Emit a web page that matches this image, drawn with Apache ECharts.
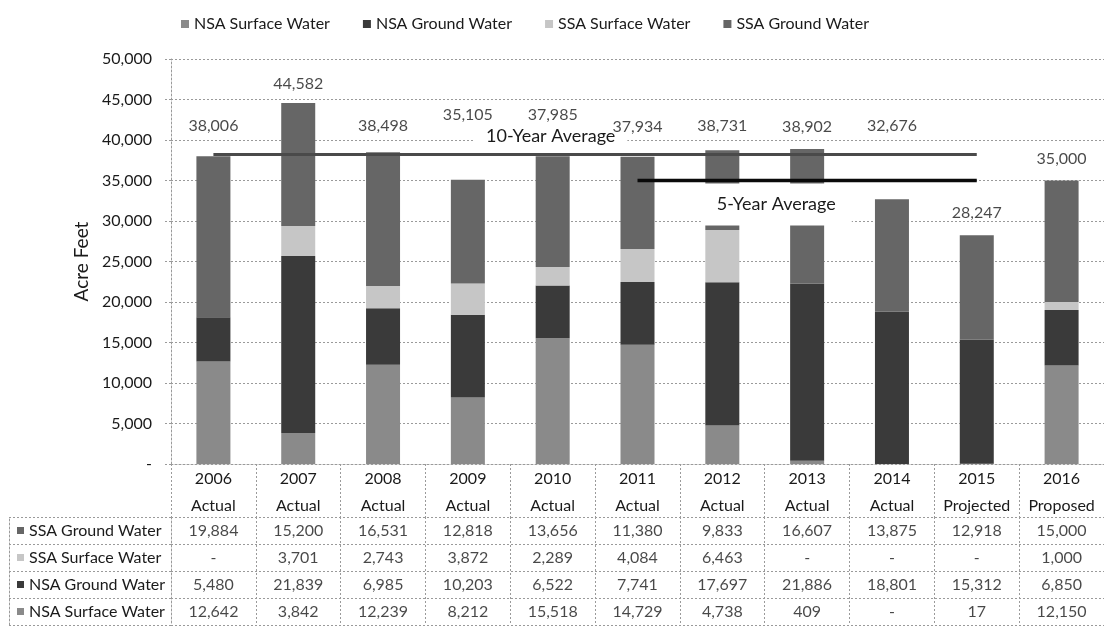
<!DOCTYPE html>
<html>
<head>
<meta charset="utf-8">
<title>Water Use (Acre Feet)</title>
<script src="https://cdn.jsdelivr.net/npm/echarts@6/dist/echarts.min.js"></script>
<style>
  html, body { margin: 0; padding: 0; background: #fff; }
  #chart { width: 1104px; height: 626px; }
</style>
</head>
<body>
<div id="chart"></div>
<script>
// ---- data ----
const years = ['2006', '2007', '2008', '2009', '2010', '2011', '2012', '2013', '2014', '2015', '2016'];
const status = ['Actual', 'Actual', 'Actual', 'Actual', 'Actual', 'Actual', 'Actual', 'Actual', 'Actual', 'Projected', 'Proposed'];
const nsaSurface = [12642, 3842, 12239, 8212, 15518, 14729, 4738, 409, 0, 17, 12150];
const nsaGround = [5480, 21839, 6985, 10203, 6522, 7741, 17697, 21886, 18801, 15312, 6850];
const ssaSurface = [0, 3701, 2743, 3872, 2289, 4084, 6463, 0, 0, 0, 1000];
const ssaGround = [19884, 15200, 16531, 12818, 13656, 11380, 9833, 16607, 13875, 12918, 15000];
const tenYearAverage = 38200;
const tenYearSpan = ['2006', '2015'];
const fiveYearAverage = 35000;
const fiveYearSpan = ['2011', '2015'];
const yMax = 50000;
const yStep = 5000;

// ---- layout / styling ----
const FONT = 'Lato, "Open Sans", sans-serif';
const FS = 16;
const TXT = '#1a1a1a';
const GRID_LINE = '#9a9a9a';
const colors = {
  'NSA Surface Water': '#8a8a8a',
  'NSA Ground Water': '#3a3a3a',
  'SSA Surface Water': '#c6c6c6',
  'SSA Ground Water': '#666666'
};
// vertical lift (px) of each total label's centre above its bar top
const totalLabelLift = [-31, -20, -27, -66, -42, -31, -25, -23, -74, -23, -23];

const fmt = v => (v === 0 ? '-' : v.toLocaleString('en-US'));
const totals = years.map((_, i) => nsaSurface[i] + nsaGround[i] + ssaSurface[i] + ssaGround[i]);

function spanLine(value, span) {
  const a = years.indexOf(span[0]), b = years.indexOf(span[1]);
  return years.map((_, i) => (i >= a && i <= b ? value : '-'));
}

// table rows, top to bottom
const tableRows = [
  { name: 'SSA Ground Water', values: ssaGround },
  { name: 'SSA Surface Water', values: ssaSurface },
  { name: 'NSA Ground Water', values: nsaGround },
  { name: 'NSA Surface Water', values: nsaSurface }
];
const tableCells = [];
tableRows.forEach((row, r) => row.values.forEach((v, c) => tableCells.push([c, r, v])));

const dashed = { color: GRID_LINE, width: 1, type: [2, 2] };

const rowRich = { t: { fontFamily: FONT, fontSize: FS, color: TXT, padding: [0, 0, 0, 5] } };
tableRows.forEach((row, r) => {
  rowRich['i' + r] = { width: 7, height: 7, backgroundColor: colors[row.name] };
});

const chart = echarts.init(document.getElementById('chart'), null, { renderer: 'canvas' });

const barSeries = (name, data) => ({
  name, type: 'bar', stack: 'total', data,
  barWidth: 34, z: 2,
  xAxisIndex: 0, yAxisIndex: 0,
  itemStyle: { color: colors[name] },
  emphasis: { disabled: true }
});

const avgLine = (name, value, span, labelYear, label, lineColor, width) => ({
  name, type: 'line', z: 4,
  xAxisIndex: 0, yAxisIndex: 0,
  data: spanLine(value, span).map((v, i) => (years[i] === labelYear ? {
    value: v,
    label: Object.assign({
      show: true, position: 'inside', formatter: name,
      fontFamily: FONT, fontSize: 18, color: TXT, backgroundColor: '#fff'
    }, label)
  } : v)),
  symbol: 'circle', symbolSize: 1,
  itemStyle: { color: 'rgba(0,0,0,0)' },
  lineStyle: { color: lineColor, width },
  emphasis: { disabled: true }
});

const option = {
  animation: false,
  textStyle: { fontFamily: FONT, color: TXT },
  legend: {
    data: ['NSA Surface Water', 'NSA Ground Water', 'SSA Surface Water', 'SSA Ground Water'],
    left: 176, top: 11,
    icon: 'rect', itemWidth: 8, itemHeight: 8, itemGap: 33,
    textStyle: { fontFamily: FONT, fontSize: FS, color: TXT }
  },
  grid: [
    { left: 171, right: 0, top: 59, bottom: 162 },
    { left: 171, right: 0, top: 517, height: 108 }
  ],
  xAxis: [
    {
      gridIndex: 0, type: 'category', data: years,
      axisLine: { show: true, lineStyle: dashed },
      axisTick: { show: true, interval: 0, length: 53, lineStyle: dashed },
      axisLabel: {
        interval: 0, hideOverlap: false,
        margin: 1, lineHeight: 27, fontSize: FS, fontFamily: FONT, color: TXT,
        formatter: (v, i) => v + '\n' + status[i]
      }
    },
    {
      gridIndex: 1, type: 'category', data: years,
      axisLine: { show: false }, axisTick: { show: false }, axisLabel: { show: false },
      splitLine: { show: true, interval: 0, lineStyle: dashed }
    }
  ],
  yAxis: [
    {
      gridIndex: 0, type: 'value', min: 0, max: yMax, interval: yStep,
      name: 'Acre Feet', nameLocation: 'middle', nameGap: 78, nameRotate: 90,
      nameTextStyle: { fontFamily: FONT, fontSize: 19, color: TXT },
      axisLine: { show: true, lineStyle: dashed },
      axisTick: { show: true, length: 6, lineStyle: dashed },
      axisLabel: { margin: 19, fontSize: FS, fontFamily: FONT, color: TXT, formatter: fmt },
      splitLine: { show: true, lineStyle: dashed }
    },
    {
      gridIndex: 1, type: 'category', inverse: true,
      data: tableRows.map(r => r.name),
      axisLine: { show: true, lineStyle: dashed },
      axisTick: { show: true, interval: 0, length: 162, lineStyle: dashed },
      axisLabel: {
        interval: 0, align: 'left', margin: 154, rich: rowRich,
        formatter: (v, i) => '{i' + i + '|}{t|' + v + '}'
      },
      splitLine: { show: true, interval: 0, lineStyle: dashed }
    },
    {
      // outer left border of the row-name column
      gridIndex: 1, type: 'category', position: 'left', offset: 162,
      data: tableRows.map(r => r.name),
      axisLine: { show: true, lineStyle: dashed },
      axisTick: { show: false }, axisLabel: { show: false }, splitLine: { show: false }
    }
  ],
  series: [
    barSeries('NSA Surface Water', nsaSurface),
    barSeries('NSA Ground Water', nsaGround),
    barSeries('SSA Surface Water', ssaSurface),
    barSeries('SSA Ground Water', ssaGround),
    avgLine('10-Year Average', tenYearAverage, tenYearSpan, '2010',
      { offset: [-2, -18], padding: [4, 12] }, '#4a4a4a', 3),
    avgLine('5-Year Average', fiveYearAverage, fiveYearSpan, '2012',
      { offset: [54, 24], padding: [12, 16] }, '#0a0a0a', 3.5),
    {
      // stack totals printed above each column
      name: 'Total', type: 'scatter', z: 6,
      xAxisIndex: 0, yAxisIndex: 0,
      data: totals.map((t, i) => ({
        value: t,
        label: { offset: [0, totalLabelLift[i] + 9] }
      })),
      symbolSize: 0,
      label: {
        show: true, position: 'top', distance: 0,
        fontFamily: FONT, fontSize: FS, color: TXT,
        formatter: p => fmt(p.value)
      },
      emphasis: { disabled: true }
    },
    {
      name: 'table', type: 'scatter',
      xAxisIndex: 1, yAxisIndex: 1,
      data: tableCells,
      symbolSize: 0,
      label: {
        show: true, position: 'inside',
        fontFamily: FONT, fontSize: FS, color: TXT,
        formatter: p => fmt(p.value[2])
      },
      emphasis: { disabled: true }
    }
  ]
};

chart.setOption(option);
</script>
</body>
</html>
